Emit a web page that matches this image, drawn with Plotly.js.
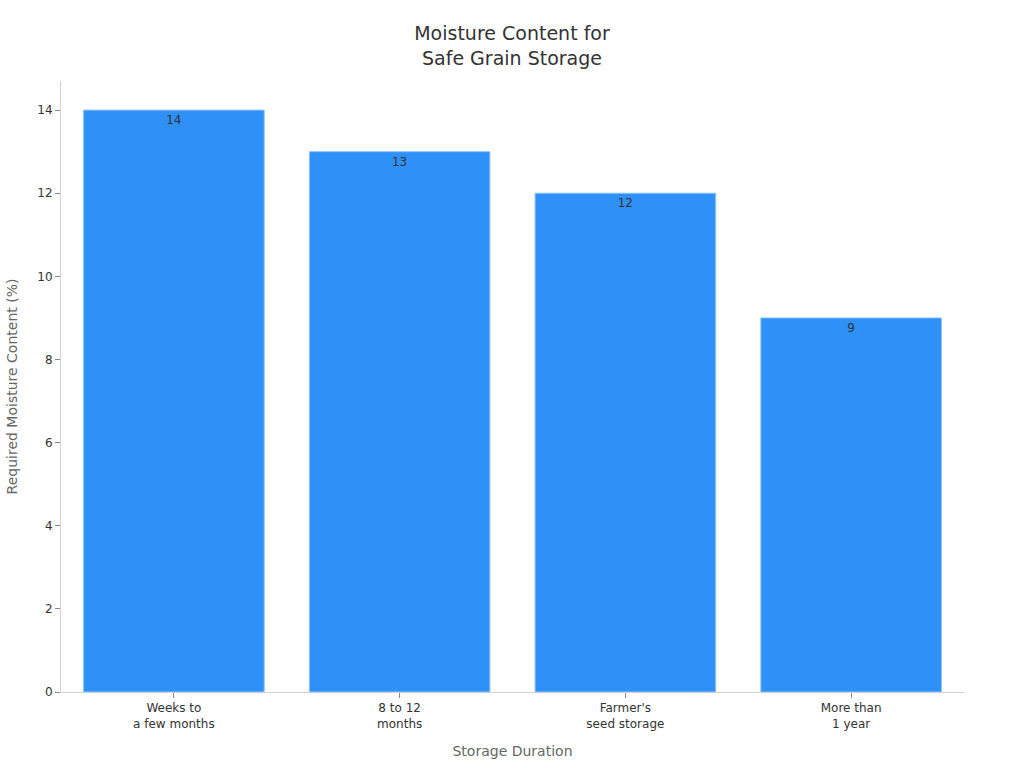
<!DOCTYPE html>
<html>
<head>
<meta charset="utf-8">
<script src="https://cdn.plot.ly/plotly-3.0.1.min.js"></script>
<style>
  html, body { margin: 0; padding: 0; background: #fff; }
  #chart { width: 1024px; height: 768px; }
</style>
</head>
<body>
<div id="chart"></div>
<script>
const categories = ['Weeks to<br>a few months', '8 to 12<br>months', "Farmer's<br>seed storage", 'More than<br>1 year'];
const moisture = [14, 13, 12, 9];

const trace = {
  x: categories,
  y: moisture,
  type: 'bar',
  text: moisture.map(String),
  textposition: 'inside',
  insidetextanchor: 'end',
  textfont: { color: '#333333', size: 12 },
  marker: {
    color: '#2f91f8',
    line: { color: '#8cc4fb', width: 1 },
  },
  hoverinfo: 'x+y',
};

const layout = {
  width: 1024,
  height: 768,
  paper_bgcolor: '#ffffff',
  plot_bgcolor: '#ffffff',
  font: { family: "'DejaVu Sans', sans-serif", color: '#333333', size: 12 },
  title: {
    text: 'Moisture Content for<br>Safe Grain Storage',
    font: { size: 19, color: '#333333' },
    x: 0.5,
    y: 0.948,
  },
  margin: { t: 81, r: 60, b: 76, l: 61 },
  bargap: 0.2,
  showlegend: false,
  xaxis: {
    title: { text: 'Storage Duration', font: { size: 14, color: '#666666' }, standoff: 16 },
    showline: true,
    linecolor: '#d0d0d0',
    ticks: 'outside',
    tickcolor: '#888888',
    ticklen: 5,
    showgrid: false,
    tickfont: { size: 12, color: '#333333' },
  },
  yaxis: {
    title: { text: 'Required Moisture Content (%)', font: { size: 14, color: '#666666' }, standoff: 16 },
    range: [0, 14.7],
    dtick: 2,
    showline: true,
    linecolor: '#d0d0d0',
    ticks: 'outside',
    tickcolor: '#888888',
    ticklen: 5,
    showgrid: false,
    zeroline: false,
    tickfont: { size: 12, color: '#333333' },
  },
};

Plotly.newPlot('chart', [trace], layout, { displayModeBar: false, responsive: false });
</script>
</body>
</html>
